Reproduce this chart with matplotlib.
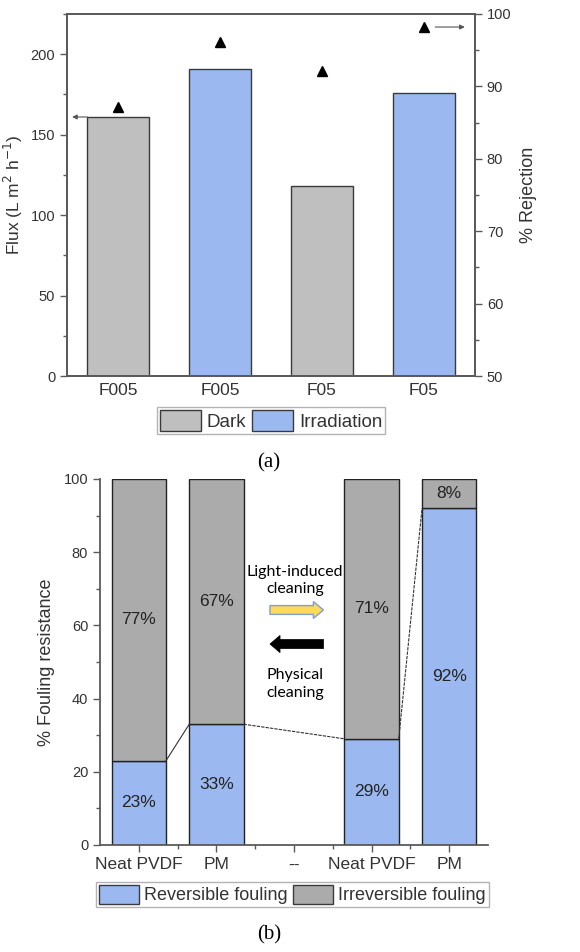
import numpy as np
import matplotlib
matplotlib.use('Agg')
import matplotlib.pyplot as plt
from matplotlib.patches import Patch, FancyArrow
from matplotlib.ticker import MultipleLocator

plt.rcParams['font.family'] = ['Liberation Sans', 'DejaVu Sans']

# (a) flux and rejection
samples_a = ['F005', 'F005', 'F05', 'F05']
conditions_a = ['Dark', 'Irradiation', 'Dark', 'Irradiation']
flux = [161, 191, 118, 176]
rejection = [87.2, 96.1, 92.1, 98.2]

# (b) fouling resistance split
membranes_b = ['Neat PVDF', 'PM', '--', 'Neat PVDF', 'PM']
reversible = [23, 33, np.nan, 29, 92]
irreversible = [77, 67, np.nan, 71, 8]

GRAY_A = '#bfbfbf'
GRAY_B = '#ababab'
BLUE = '#9bb9f0'
AXC = '#5a5a5a'
TXT = '#333333'

fig = plt.figure(figsize=(5.8, 9.52), dpi=100)

# ---------------- panel (a) ----------------
ax = fig.add_axes([67 / 580, 0.605, 408 / 580, 0.3803])
x = np.arange(len(samples_a))
colors = [GRAY_A if c == 'Dark' else BLUE for c in conditions_a]
ax.bar(x, flux, width=0.6, color=colors, edgecolor='#3a3a3a', linewidth=1.0, zorder=2)
ax.set_xlim(-0.5, len(samples_a) - 0.5)
ax.set_ylim(0, 225)
ax.set_xticks(x)
ax.set_xticklabels(samples_a, fontsize=12.5, color=TXT)
ax.tick_params(axis='x', length=0, pad=5)
ax.yaxis.set_major_locator(MultipleLocator(50))
ax.yaxis.set_minor_locator(MultipleLocator(25))
ax.tick_params(axis='y', which='major', length=5, width=1, color=AXC, labelsize=10.5, labelcolor=TXT)
ax.tick_params(axis='y', which='minor', length=3, width=1, color=AXC)
ax.set_ylabel('Flux (L m$^2$ h$^{-1}$)', fontsize=12.5, color=TXT, labelpad=4)
for s in ax.spines.values():
    s.set_color(AXC)
    s.set_linewidth(1.3)

ax2 = ax.twinx()
ax2.plot(x, rejection, linestyle='none', marker='^', markersize=7, color='black', zorder=3)
ax2.set_ylim(50, 100)
ax2.yaxis.set_major_locator(MultipleLocator(10))
ax2.yaxis.set_minor_locator(MultipleLocator(5))
ax2.tick_params(axis='y', which='major', length=5, width=1, color=AXC, labelsize=10.5, labelcolor=TXT)
ax2.tick_params(axis='y', which='minor', length=3, width=1, color=AXC)
ax2.set_ylabel('% Rejection', fontsize=13, color=TXT, labelpad=6)
for s in ax2.spines.values():
    s.set_color(AXC)
    s.set_linewidth(1.3)

# axis pointers
ax.annotate('', xy=(-0.45, flux[0]), xytext=(-0.3, flux[0]),
            arrowprops=dict(arrowstyle='-|>', color='#555555', lw=0.8,
                            mutation_scale=7, shrinkA=0, shrinkB=0))
ax2.annotate('', xy=(3.40, rejection[-1]), xytext=(3.11, rejection[-1]),
             arrowprops=dict(arrowstyle='-|>', color='#555555', lw=0.8,
                             mutation_scale=7, shrinkA=0, shrinkB=0))

handles_a = [Patch(facecolor=GRAY_A, edgecolor='#3a3a3a', label='Dark'),
             Patch(facecolor=BLUE, edgecolor='#3a3a3a', label='Irradiation')]
leg = fig.legend(handles=handles_a, loc='center', bbox_to_anchor=(271 / 580, 1 - 420.5 / 952),
                 ncol=2, fontsize=13.5, frameon=True, fancybox=False, edgecolor='#a0a0a0',
                 handlelength=2.2, handleheight=1.3, handletextpad=0.3, columnspacing=0.3,
                 borderpad=0.15, borderaxespad=0)
leg.get_frame().set_linewidth(1.0)
for t in leg.get_texts():
    t.set_color(TXT)

fig.text(269 / 580, 1 - 463 / 952, '(a)', fontsize=15, family='Liberation Serif',
         ha='center', va='center', color='black')

# ---------------- panel (b) ----------------
bx = fig.add_axes([100 / 580, 0.1124, 388 / 580, 0.3845])
xb = np.arange(len(membranes_b))
w = 0.7
rev = np.array(reversible, dtype=float)
irr = np.array(irreversible, dtype=float)
bx.bar(xb, rev, width=w, color=BLUE, edgecolor='#222222', linewidth=1.0, zorder=2)
bx.bar(xb, irr, width=w, bottom=rev, color=GRAY_B, edgecolor='#222222', linewidth=1.0, zorder=2)

for i in range(len(xb)):
    if np.isnan(rev[i]):
        continue
    bx.text(xb[i], rev[i] / 2, f'{rev[i]:.0f}%', ha='center', va='center', fontsize=12.5, color='#222222')
    bx.text(xb[i], rev[i] + irr[i] / 2, f'{irr[i]:.0f}%', ha='center', va='center', fontsize=12.5, color='#222222')

# lines linking tops of reversible fouling
filled = [i for i in range(len(xb)) if not np.isnan(rev[i])]
for k, (i, j) in enumerate(zip(filled[:-1], filled[1:])):
    ls = '-' if k == 0 else (0, (3, 1))
    bx.plot([xb[i] + w / 2, xb[j] - w / 2], [rev[i], rev[j]], color='#333333', lw=0.8, ls=ls, zorder=3)

bx.set_xlim(-0.5, len(membranes_b) - 0.5)
bx.set_ylim(0, 100)
bx.set_xticks(xb)
bx.set_xticklabels(membranes_b, fontsize=12.5, color=TXT)
bx.set_xticks(xb[:-1] + 0.5, minor=True)
bx.yaxis.set_major_locator(MultipleLocator(20))
bx.yaxis.set_minor_locator(MultipleLocator(10))
bx.tick_params(axis='both', which='major', length=5, width=1, color=AXC, labelsize=10.5, labelcolor=TXT)
bx.tick_params(axis='x', which='major', labelsize=12.5, pad=4)
bx.tick_params(axis='both', which='minor', length=3, width=1, color=AXC)
bx.set_ylabel('% Fouling resistance', fontsize=13, color=TXT, labelpad=6)
bx.spines['top'].set_visible(False)
bx.spines['right'].set_visible(False)
for s in ('left', 'bottom'):
    bx.spines[s].set_color(AXC)
    bx.spines[s].set_linewidth(1.3)

# cleaning arrows and notes
bx.text(2.01, 72.3, 'Light-induced\ncleaning', ha='center', va='center', fontsize=11.5,
        family='Lato', linespacing=1.3, color='black')
bx.add_patch(FancyArrow(1.69, 64.2, 0.69, 0, width=2.4, head_width=4.6, head_length=0.13,
                        length_includes_head=True, facecolor='#ffd95a', edgecolor='#7f9fd0',
                        linewidth=1.0, zorder=4))
bx.add_patch(FancyArrow(2.38, 54.9, -0.69, 0, width=2.5, head_width=4.7, head_length=0.13,
                        length_includes_head=True, facecolor='black', edgecolor='black',
                        linewidth=0.5, zorder=4))
bx.text(2.01, 44, 'Physical\ncleaning', ha='center', va='center', fontsize=11.5,
        family='Lato', linespacing=1.3, color='black')

handles_b = [Patch(facecolor=BLUE, edgecolor='#3a3a3a', label='Reversible fouling'),
             Patch(facecolor=GRAY_B, edgecolor='#3a3a3a', label='Irreversible fouling')]
legb = fig.legend(handles=handles_b, loc='center', bbox_to_anchor=(292.5 / 580, 1 - 894.5 / 952),
                  ncol=2, fontsize=13, frameon=True, fancybox=False, edgecolor='#a0a0a0',
                  handlelength=2.2, handleheight=1.3, handletextpad=0.3, columnspacing=0.3,
                  borderpad=0.15, borderaxespad=0)
legb.get_frame().set_linewidth(1.0)
for t in legb.get_texts():
    t.set_color(TXT)

fig.text(269 / 580, 1 - 935 / 952, '(b)', fontsize=15, family='Liberation Serif',
         ha='center', va='center', color='black')

fig.savefig('out.png', dpi=100)
